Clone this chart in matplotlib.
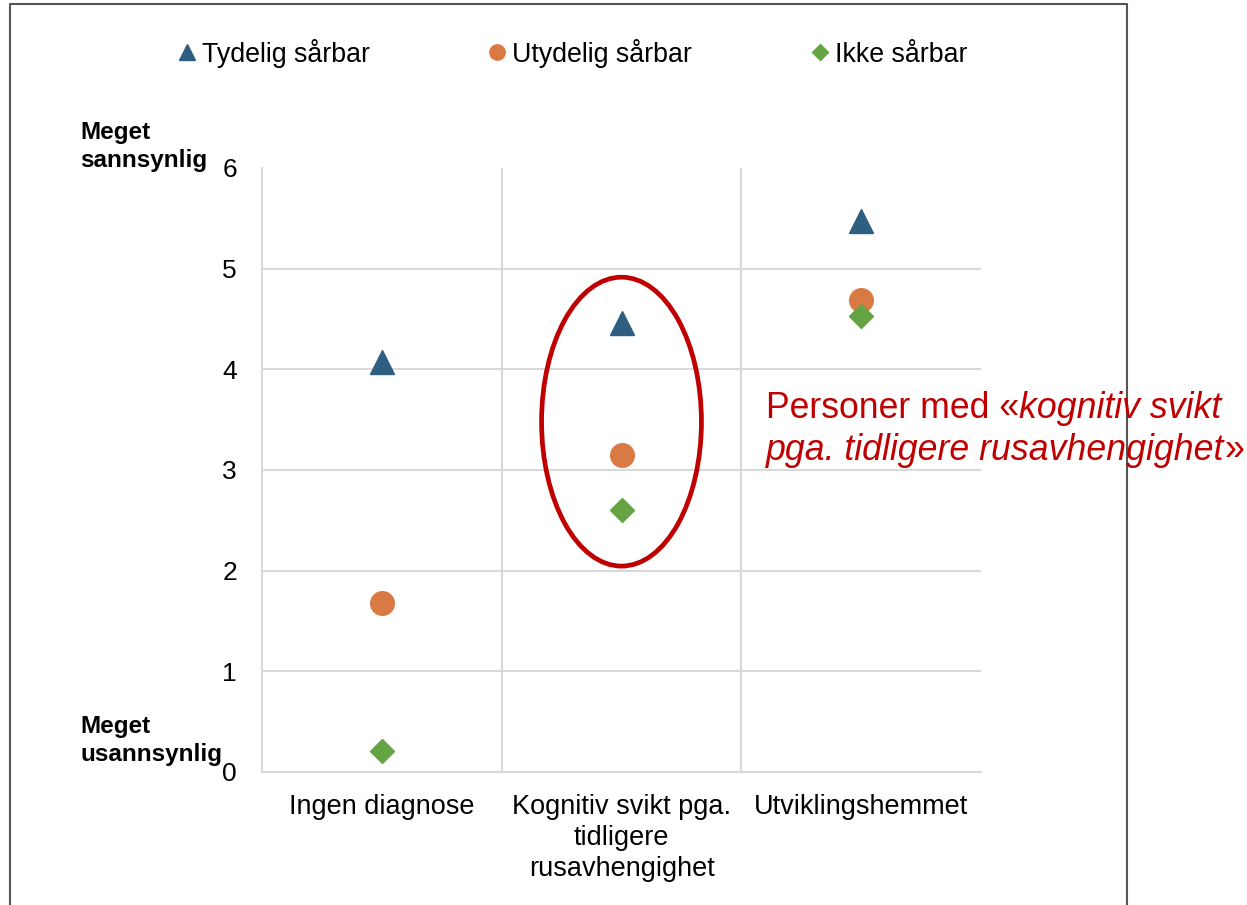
import matplotlib
matplotlib.use("Agg")
import matplotlib.pyplot as plt
from matplotlib.patches import Ellipse
from matplotlib.lines import Line2D
from matplotlib.text import Annotation

plt.rcParams['font.family'] = ['Liberation Sans', 'DejaVu Sans']

categories = ["Ingen diagnose", "Kognitiv svikt pga.\ntidligere\nrusavhengighet", "Utviklingshemmet"]
tydelig = [4.07, 4.46, 5.47]
utydelig = [1.68, 3.15, 4.69]
ikke = [0.21, 2.60, 4.53]
series_labels = ["Tydelig sårbar", "Utydelig sårbar", "Ikke sårbar"]

blue = "#2E5F80"
orange = "#D97A45"
green = "#64A443"
red = "#C00000"
grid_col = "#D9D9D9"

fig = plt.figure(figsize=(12.47, 9.05), dpi=100)
ax = fig.add_axes([0.2101, 0.1470, 0.5766, 0.6674])

xpos = [i + 0.5 for i in range(len(categories))]
ax.plot(xpos, tydelig, linestyle='none', marker='^', ms=17, color=blue, label=series_labels[0], zorder=3)
ax.plot(xpos, utydelig, linestyle='none', marker='o', ms=17, color=orange, label=series_labels[1], zorder=3)
ax.plot(xpos, ikke, linestyle='none', marker='D', ms=12, color=green, label=series_labels[2], zorder=3)

ax.set_xlim(0, 3)
ax.set_ylim(0, 6)
ax.set_yticks(range(0, 7))
ax.set_xticks(xpos)
ax.set_xticklabels(categories, fontsize=19.5, linespacing=1.25)
ax.tick_params(axis='x', length=0, pad=16)
ax.tick_params(axis='y', length=0, pad=18, labelsize=19)

for y in range(1, 6):
    ax.axhline(y, color=grid_col, lw=1.5, zorder=1)
for x in [1, 2]:
    ax.axvline(x, color=grid_col, lw=1.5, zorder=1)

for s in ['top', 'right']:
    ax.spines[s].set_visible(False)
for s in ['left', 'bottom']:
    ax.spines[s].set_color(grid_col)
    ax.spines[s].set_linewidth(1.5)

# red ellipse round the middle category
ell = Ellipse((1.5, 3.48), width=0.667, height=2.87, fill=False, edgecolor=red, lw=3.4, zorder=4, clip_on=False)
ax.add_patch(ell)

# side labels (baseline = last line)
fig.text(80 / 1247, 1 - 167 / 905, "Meget\nsannsynlig", fontsize=17.5, fontweight='bold', va='baseline', ha='left', linespacing=1.29)
fig.text(80 / 1247, 1 - 761 / 905, "Meget\nusannsynlig", fontsize=17.5, fontweight='bold', va='baseline', ha='left', linespacing=1.29)

# legend
fig.legend(loc='center', bbox_to_anchor=(573 / 1247, 1 - 53 / 905), ncol=3, frameon=False,
           fontsize=19.3, markerscale=0.65, handlelength=0.6, handletextpad=0.27, columnspacing=4.45)

# annotation with italic part
t1 = fig.text(766 / 1247, 1 - 418 / 905, "Personer med «", fontsize=25.7, color=red, va='baseline', ha='left')
fig.add_artist(Annotation("kognitiv svikt", xy=(1, 0), xycoords=t1, va='bottom', ha='left',
                          fontsize=25.7, color=red, style='italic'))
t3 = fig.text(766 / 1247, 1 - 460 / 905, "pga. tidligere rusavhengighet", fontsize=25.7, color=red, style='italic',
              va='baseline', ha='left')
fig.add_artist(Annotation("»", xy=(1, 0), xycoords=t3, va='bottom', ha='left', fontsize=25.7, color=red))

# frame round the picture
frame = Line2D([10 / 1247, 10 / 1247, 1127 / 1247, 1127 / 1247], [0, 1 - 4.5 / 905, 1 - 4.5 / 905, 0],
               transform=fig.transFigure, color="#555555", lw=1.5)
fig.add_artist(frame)

fig.savefig("out.png", dpi=100)
